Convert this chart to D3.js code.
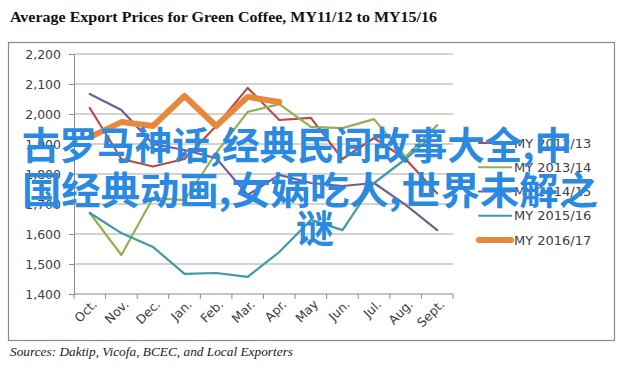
<!DOCTYPE html>
<html>
<head>
<meta charset="utf-8">
<script src="https://cdn.jsdelivr.net/npm/d3@7"></script>
<style>
  body { margin: 0; background: #fff; }
</style>
</head>
<body>
<div id="chart"></div>
<script>
// chart data
const months = ["Oct.", "Nov.", "Dec.", "Jan.", "Feb.", "Mar.", "Apr.", "May", "Jun.", "Jul.", "Aug.", "Sept."];
const my1213 = [2020, 1850, 1825, 1850, 1960, 2087, 1980, 1987, 1850, 1920, 1850, 1735];
const my1314 = [1670, 1530, 1720, 1713, 1870, 2007, 2033, 1957, 1953, 1983, 1857, 1963];
const my1415 = [2067, 2013, 1900, 1880, 1853, 1730, 1797, 1770, 1760, 1770, 1697, 1613];
const my1516 = [1670, 1603, 1557, 1467, 1470, 1457, 1540, 1647, 1613, 1770, 1850, 1940];
const my1617 = [1923, 1973, 1960, 2060, 1960, 2057, 2040];
const seriesNames = ["MY 2012/13", "MY 2013/14", "MY 2014/15", "MY 2015/16", "MY 2016/17"];
const yTicks = [1400, 1500, 1600, 1700, 1800, 1900, 2000, 2100, 2200];
const titleText = "Average Export Prices for Green Coffee, MY11/12 to MY15/16";
const sourceText = "Sources: Daktip, Vicofa, BCEC, and Local Exporters";
const overlayLines = ["古罗马神话,经典民间故事大全,中", "国经典动画,女娲吃人,世界未解之", "谜"];

const W = 628, H = 372;
const plot = {left: 74, right: 453, top: 54, bottom: 294};

const svg = d3.select("#chart")
    .append("svg")
    .attr("width", W)
    .attr("height", H);

// title
svg.append("text")
    .attr("x", 10)
    .attr("y", 22)
    .attr("textLength", 427)
    .attr("lengthAdjust", "spacingAndGlyphs")
    .style("font-family", "'Liberation Serif', serif")
    .style("font-weight", "bold")
    .style("font-size", "15.5px")
    .style("fill", "#111")
    .text(titleText);

// chart frame
svg.append("rect")
    .attr("x", 8.5)
    .attr("y", 42.5)
    .attr("width", 606)
    .attr("height", 298)
    .attr("fill", "#fff")
    .attr("stroke", "#8a8a8a")
    .attr("stroke-width", 1.2);

// scales
const x = d3.scaleBand()
    .domain(months)
    .range([plot.left, plot.right])
    .padding(0);
const cx = d => x(d) + x.bandwidth() / 2;

const y = d3.scaleLinear()
    .domain([1400, 2200])
    .range([plot.bottom, plot.top]);

// gridlines + y axis
const yAxis = svg.append("g")
    .attr("transform", `translate(${plot.left},0)`)
    .call(d3.axisLeft(y).tickValues(yTicks).tickFormat(d3.format(",")).tickSize(5).tickSizeOuter(0));
yAxis.select(".domain").attr("stroke", "#8a8a8a");
yAxis.selectAll(".tick line").attr("stroke", "#8a8a8a");
yAxis.selectAll(".tick text")
    .attr("x", -13)
    .style("font-family", "'DejaVu Sans', sans-serif")
    .style("font-size", "12.5px")
    .style("fill", "#404040");

svg.append("g")
    .selectAll("line")
    .data(yTicks.filter(d => d > 1400))
    .join("line")
    .attr("x1", plot.left)
    .attr("x2", plot.right)
    .attr("y1", d => y(d))
    .attr("y2", d => y(d))
    .attr("stroke", "#a6a6a6")
    .attr("stroke-width", 1);

// x axis line and ticks at band edges
svg.append("line")
    .attr("x1", plot.left).attr("x2", plot.right)
    .attr("y1", plot.bottom).attr("y2", plot.bottom)
    .attr("stroke", "#8a8a8a");
svg.append("g")
    .selectAll("line")
    .data(months.map(m => x(m)).concat([x.range()[1]]))
    .join("line")
    .attr("x1", d => d).attr("x2", d => d)
    .attr("y1", plot.bottom).attr("y2", plot.bottom + 5)
    .attr("stroke", "#8a8a8a");

// rotated month labels
svg.append("g")
    .selectAll("text")
    .data(months)
    .join("text")
    .attr("transform", d => `translate(${cx(d) + 5},${plot.bottom + 8}) rotate(-45)`)
    .attr("text-anchor", "end")
    .attr("dy", "0.35em")
    .style("font-family", "'DejaVu Sans', sans-serif")
    .style("font-size", "12.5px")
    .style("fill", "#404040")
    .text(d => d);

// lines
const colors = ["#b84a47", "#94b050", "#735c93", "#3f9aa8", "#e8883c"];
const widths = [2.2, 2.2, 2.2, 2.2, 6];
const allSeries = [my1213, my1314, my1415, my1516, my1617];

const line = d3.line()
    .x((d, i) => cx(months[i]))
    .y(d => y(d));

svg.append("g")
    .selectAll("path")
    .data(allSeries)
    .join("path")
    .attr("d", d => line(d))
    .attr("fill", "none")
    .attr("stroke", (d, i) => colors[i])
    .attr("stroke-width", (d, i) => widths[i])
    .attr("stroke-linejoin", "round")
    .attr("stroke-linecap", "round");

// legend
const legendY = d3.scalePoint()
    .domain(seriesNames)
    .range([143, 240]);
const legend = svg.append("g")
    .selectAll("g")
    .data(seriesNames)
    .join("g")
    .attr("transform", d => `translate(0,${legendY(d)})`);
legend.append("line")
    .attr("x1", 479).attr("x2", 511)
    .attr("stroke", (d, i) => colors[i])
    .attr("stroke-width", (d, i) => widths[i])
    .attr("stroke-linecap", "round");
legend.append("text")
    .attr("x", 514)
    .attr("dy", "0.36em")
    .style("font-family", "'DejaVu Sans', sans-serif")
    .style("font-size", "13px")
    .style("fill", "#404040")
    .text(d => d);

// source note
svg.append("text")
    .attr("x", 10)
    .attr("y", 356)
    .attr("textLength", 283)
    .attr("lengthAdjust", "spacingAndGlyphs")
    .style("font-family", "'Liberation Serif', serif")
    .style("font-style", "italic")
    .style("font-size", "12.5px")
    .style("fill", "#222")
    .text(sourceText);

// overlay caption
const overlay = svg.append("g")
    .style("font-family", "'Noto Sans CJK SC', sans-serif")
    .style("font-weight", "bold")
    .style("font-size", "38px")
    .style("fill", "#2a8ae2");
overlay.append("text")
    .attr("x", 22).attr("y", 159)
    .attr("textLength", 550)
    .attr("lengthAdjust", "spacingAndGlyphs")
    .text(overlayLines[0]);
overlay.append("text")
    .attr("x", 22).attr("y", 204)
    .attr("textLength", 576)
    .attr("lengthAdjust", "spacingAndGlyphs")
    .text(overlayLines[1]);
overlay.append("text")
    .attr("x", 315).attr("y", 242)
    .attr("text-anchor", "middle")
    .text(overlayLines[2]);
</script>
</body>
</html>
